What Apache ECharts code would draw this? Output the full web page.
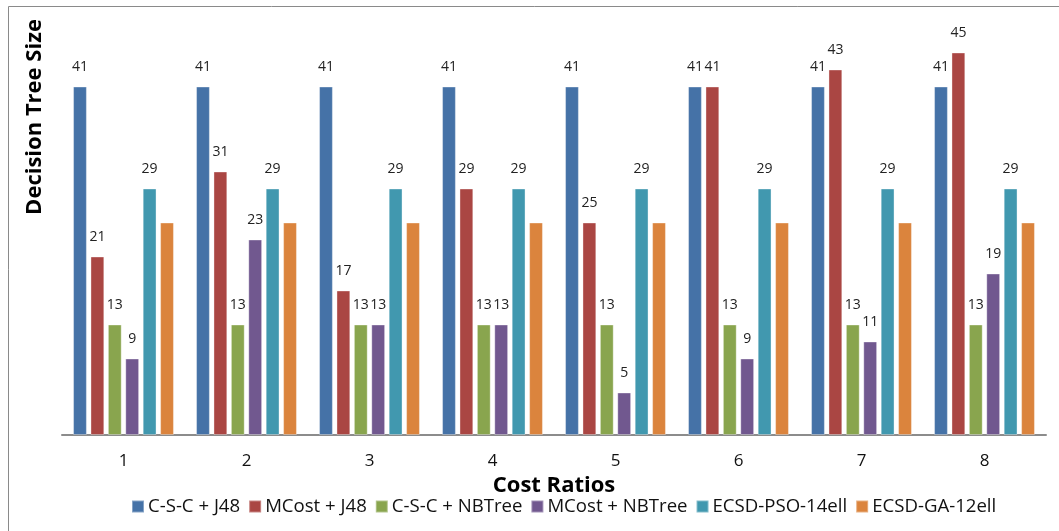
<!DOCTYPE html>
<html>
<head>
<meta charset="utf-8">
<script src="https://cdn.jsdelivr.net/npm/echarts@6/dist/echarts.min.js"></script>
<style>
  html, body { margin: 0; padding: 0; background: #fff; }
  #chart { width: 1059px; height: 531px; }
</style>
</head>
<body>
<div id="chart"></div>
<script>
// Cost ratio groups on the x axis
const costRatios = ['1', '2', '3', '4', '5', '6', '7', '8'];

// Decision tree size per method
const cscJ48      = [41, 41, 41, 41, 41, 41, 41, 41];
const mcostJ48    = [21, 31, 17, 29, 25, 41, 43, 45];
const cscNBTree   = [13, 13, 13, 13, 13, 13, 13, 13];
const mcostNBTree = [9, 23, 13, 13, 5, 9, 11, 19];
const ecsdPSO     = [29, 29, 29, 29, 29, 29, 29, 29];
const ecsdGA      = [25, 25, 25, 25, 25, 25, 25, 25];

const seriesNames = ['C-S-C + J48', 'MCost + J48', 'C-S-C + NBTree', 'MCost + NBTree', 'ECSD-PSO-14ell', 'ECSD-GA-12ell'];
const seriesData = [cscJ48, mcostJ48, cscNBTree, mcostNBTree, ecsdPSO, ecsdGA];
const colors = ['#4572A7', '#AA4643', '#89A54E', '#71588F', '#4198AF', '#DB843D'];
const showLabels = [true, true, true, true, true, false];

const FONT = '"Open Sans", "Liberation Sans", sans-serif';

const chart = echarts.init(document.getElementById('chart'), null, { renderer: 'canvas' });

chart.setOption({
  animation: false,
  color: colors,
  grid: { left: 62, right: 13, top: 10, bottom: 96, containLabel: false },
  xAxis: {
    type: 'category',
    data: costRatios,
    axisLine: { show: true, lineStyle: { color: '#8c8c8c', width: 2 } },
    axisTick: { show: false },
    axisLabel: { color: '#111', fontSize: 17, fontFamily: FONT, margin: 18 },
    name: 'Cost Ratios',
    nameLocation: 'middle',
    nameGap: 37,
    nameTextStyle: { fontSize: 22, fontWeight: 'bold', color: '#000', fontFamily: FONT }
  },
  yAxis: {
    type: 'value',
    min: 0,
    max: 50,
    show: false,
    splitLine: { show: false }
  },
  legend: {
    top: 497,
    left: 131,
    padding: 0,
    itemWidth: 12,
    itemHeight: 12,
    itemGap: 8,
    icon: 'rect',
    textStyle: { fontSize: 18.6, color: '#111', fontFamily: FONT, padding: [0, 0, 0, -1] },
    data: seriesNames
  },
  graphic: [
    {
      type: 'rect',
      silent: true,
      shape: { x: 8.5, y: 6.5, width: 1200, height: 700 },
      style: { fill: 'none', stroke: '#8a8a8a', lineWidth: 1 }
    },
    {
      type: 'text',
      silent: true,
      x: 35,
      y: 117,
      rotation: Math.PI / 2,
      style: {
        text: 'Decision Tree Size',
        fontSize: 22,
        fontWeight: 'bold',
        fontFamily: FONT,
        fill: '#000',
        align: 'center',
        verticalAlign: 'middle'
      }
    }
  ],
  series: seriesNames.map((name, i) => ({
    name: name,
    type: 'bar',
    data: seriesData[i],
    barGap: '26%',
    barCategoryGap: '18%',
    itemStyle: { color: colors[i], borderColor: 'rgba(255,255,255,0.35)', borderWidth: 1 },
    label: {
      show: showLabels[i],
      position: 'top',
      distance: 12,
      fontSize: 14,
      color: '#222',
      fontFamily: FONT
    }
  }))
});
</script>
</body>
</html>
